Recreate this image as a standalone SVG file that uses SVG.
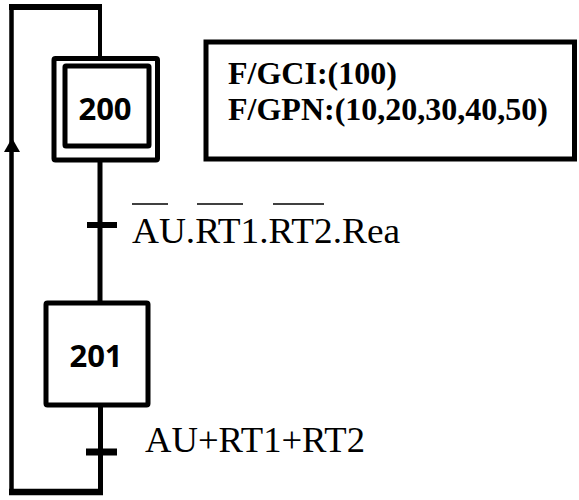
<svg xmlns="http://www.w3.org/2000/svg" width="579" height="500" viewBox="0 0 579 500">
  <defs>
    <filter id="blur" x="-20%" y="-200%" width="140%" height="500%">
      <feGaussianBlur stdDeviation="1.2"/>
    </filter>
    <style>
      .line { stroke: #000; fill: none; stroke-linecap: butt; }
      .box { fill: #fff; stroke: #000; stroke-width: 5; }
      .num { font-family: "Open Sans", "Liberation Sans", sans-serif; font-weight: bold; font-size: 31px; text-anchor: middle; fill: #000; }
      .act { font-family: "Liberation Serif", "Times New Roman", serif; font-weight: bold; font-size: 32px; fill: #000; }
      .cond { font-family: "Liberation Serif", "Times New Roman", serif; font-size: 35px; fill: #000; }
      .bar { fill: #000; }
    </style>
  </defs>

  <g id="connectors">
    <!-- loop back -->
    <line class="line" x1="11.5" y1="4" x2="11.5" y2="495" stroke-width="4.5"/>
    <line class="line" x1="9" y1="7" x2="102" y2="7" stroke-width="6"/>
    <line class="line" x1="100" y1="4" x2="100" y2="58" stroke-width="4"/>
    <line class="line" x1="9" y1="492" x2="103" y2="492" stroke-width="6.5"/>
    <polygon points="12,138 4,152 20,152" fill="#000"/>
    <!-- 200 to 201 -->
    <line class="line" x1="100" y1="160" x2="100" y2="303" stroke-width="5"/>
    <!-- 201 down -->
    <line class="line" x1="100.5" y1="405" x2="100.5" y2="495" stroke-width="5"/>
    <!-- action link -->
    <line x1="160" y1="110" x2="204" y2="110" stroke="#9a9a9a" stroke-width="5" filter="url(#blur)"/>
  </g>

  <g id="step200">
    <rect class="box" x="54" y="58.5" width="103.5" height="101.5" rx="1.5"/>
    <rect class="box" x="65" y="66" width="84" height="80" rx="1"/>
    <text class="num" x="105" y="120">200</text>
  </g>

  <g id="action200">
    <rect class="box" x="206" y="42" width="368.5" height="117"/>
    <text class="act" x="228" y="84">F/GCI:(100)</text>
    <text class="act" x="228" y="120">F/GPN:(10,20,30,40,50)</text>
  </g>

  <g id="transition1">
    <rect class="bar" x="87" y="222" width="30" height="6"/>
    <line class="line" x1="132" y1="204" x2="168" y2="204" stroke-width="1.6"/>
    <line class="line" x1="197" y1="204" x2="243" y2="204" stroke-width="1.6"/>
    <line class="line" x1="273" y1="204" x2="324" y2="204" stroke-width="1.6"/>
    <text class="cond" x="132" y="243" textLength="268" lengthAdjust="spacingAndGlyphs">AU.RT1.RT2.Rea</text>
  </g>

  <g id="step201">
    <rect class="box" x="46" y="303" width="102" height="102" rx="1.5"/>
    <text class="num" x="96" y="367">201</text>
  </g>

  <g id="transition2">
    <rect class="bar" x="86" y="448.5" width="31" height="7"/>
    <text class="cond" x="145" y="452" textLength="220" lengthAdjust="spacingAndGlyphs">AU+RT1+RT2</text>
  </g>
</svg>
